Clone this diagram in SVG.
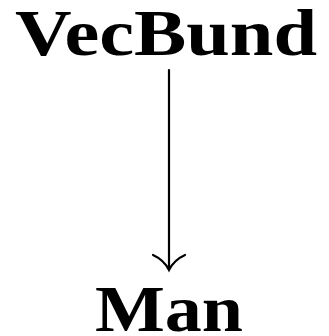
<svg xmlns="http://www.w3.org/2000/svg" width="329" height="336" viewBox="0 0 329 336">
<style>
.lbl{font-family:"Liberation Serif","DejaVu Serif",serif;font-weight:bold;font-size:65px;fill:#000}
.edge{stroke:#000;stroke-width:2.2;fill:none;stroke-linecap:round}
</style>
<rect width="329" height="336" fill="#fff"/>
<g id="connectors">
<path class="edge" d="M169,70 L169,269"/>
<path class="edge" d="M153,255 Q164,260 169,270 Q174,260 185,255"/>
</g>
<g id="VecBund">
<text class="lbl" x="15" y="55" textLength="302" lengthAdjust="spacingAndGlyphs">VecBund</text>
</g>
<g id="Man">
<text class="lbl" x="95" y="331" textLength="148" lengthAdjust="spacingAndGlyphs">Man</text>
</g>
</svg>
